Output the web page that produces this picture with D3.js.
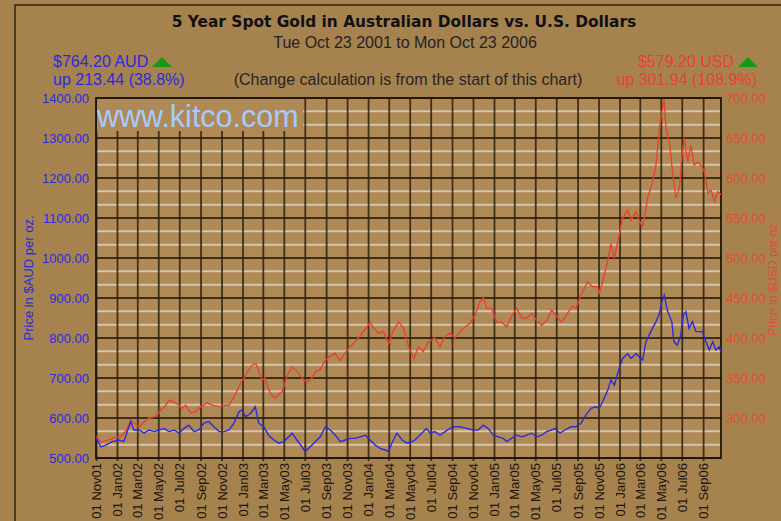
<!DOCTYPE html>
<html>
<head>
<meta charset="utf-8">
<script src="https://cdn.jsdelivr.net/npm/d3@7"></script>
<style>
body { margin: 0; background: #a6824f; }
svg { display: block; font-family: Arial, "Liberation Sans", sans-serif; }
</style>
</head>
<body>
<div id="chart"></div>
<script>
// x tick dates (every two months)
var tickDates = ['2001-11-01', '2002-01-01', '2002-03-01', '2002-05-01', '2002-07-01', '2002-09-01',
    '2002-11-01', '2003-01-01', '2003-03-01', '2003-05-01', '2003-07-01', '2003-09-01',
    '2003-11-01', '2004-01-01', '2004-03-01', '2004-05-01', '2004-07-01', '2004-09-01',
    '2004-11-01', '2005-01-01', '2005-03-01', '2005-05-01', '2005-07-01', '2005-09-01',
    '2005-11-01', '2006-01-01', '2006-03-01', '2006-05-01', '2006-07-01', '2006-09-01'];
var audTicks = [500, 600, 700, 800, 900, 1000, 1100, 1200, 1300, 1400];
var usdTicks = [300, 350, 400, 450, 500, 550, 600, 650, 700];

// gold in US dollars
var usdDates = ['2001-11-01', '2001-11-15', '2001-12-03', '2001-12-23', '2002-01-12', '2002-01-26',
    '2002-02-10', '2002-02-19', '2002-03-06', '2002-03-21', '2002-04-04', '2002-04-24', '2002-05-08',
    '2002-05-23', '2002-06-01', '2002-06-16', '2002-06-30', '2002-07-09', '2002-07-20', '2002-08-03',
    '2002-08-18', '2002-09-01', '2002-09-20', '2002-10-04', '2002-10-25', '2002-11-08', '2002-11-23',
    '2002-12-07', '2002-12-27', '2003-01-14', '2003-01-28', '2003-02-09', '2003-02-27', '2003-03-07',
    '2003-03-22', '2003-04-05', '2003-04-26', '2003-05-10', '2003-05-25', '2003-06-08', '2003-06-23',
    '2003-07-07', '2003-07-22', '2003-07-31', '2003-08-14', '2003-08-29', '2003-09-12', '2003-09-27',
    '2003-10-11', '2003-10-26', '2003-11-09', '2003-11-24', '2003-12-14', '2003-12-29', '2004-01-07',
    '2004-01-17', '2004-02-01', '2004-02-15', '2004-03-01', '2004-03-15', '2004-03-30', '2004-04-13',
    '2004-04-28', '2004-05-13', '2004-05-26', '2004-06-09', '2004-06-24', '2004-07-13', '2004-07-28',
    '2004-08-12', '2004-08-26', '2004-09-10', '2004-09-24', '2004-10-09', '2004-10-23', '2004-11-07',
    '2004-11-21', '2004-12-01', '2004-12-11', '2004-12-25', '2005-01-09', '2005-01-23', '2005-02-07',
    '2005-02-21', '2005-03-08', '2005-03-23', '2005-04-06', '2005-04-21', '2005-05-05', '2005-05-20',
    '2005-06-03', '2005-06-18', '2005-07-02', '2005-07-17', '2005-07-31', '2005-08-16', '2005-08-27',
    '2005-09-11', '2005-09-30', '2005-10-15', '2005-10-29', '2005-11-03', '2005-11-13', '2005-11-28',
    '2005-12-07', '2005-12-17', '2005-12-31', '2006-01-10', '2006-01-25', '2006-02-03', '2006-02-18',
    '2006-02-27', '2006-03-09', '2006-03-24', '2006-04-07', '2006-04-17', '2006-04-27', '2006-05-04',
    '2006-05-11', '2006-05-16', '2006-05-26', '2006-06-04', '2006-06-14', '2006-06-24', '2006-07-01',
    '2006-07-08', '2006-07-18', '2006-07-27', '2006-08-06', '2006-08-16', '2006-08-26', '2006-09-05',
    '2006-09-15', '2006-09-24', '2006-10-04', '2006-10-14', '2006-10-23'];
var usdValues = [277, 270, 272, 275, 277, 283,
    297, 294, 289, 295, 300, 302, 310,
    316, 322, 320, 316, 312, 316, 306,
    308, 314, 319, 316, 314, 316, 316,
    326, 344, 356, 366, 368, 347, 350,
    331, 325, 333, 352, 364, 358, 350,
    345, 350, 358, 360, 372, 377, 381,
    372, 381, 389, 395, 406, 414, 420,
    412, 406, 408, 393, 410, 420, 412,
    389, 374, 389, 383, 395, 400, 389,
    402, 406, 400, 408, 414, 418, 429,
    445, 450, 437, 437, 420, 420, 414,
    427, 437, 425, 425, 431, 422, 416,
    422, 435, 427, 420, 429, 440, 437,
    454, 470, 464, 464, 456, 470, 497,
    518, 500, 529, 550, 560, 547, 558,
    547, 539, 575, 595, 616, 662, 683,
    698, 662, 645, 608, 575, 587, 625,
    650, 620, 641, 616, 620, 616, 608,
    581, 585, 571, 583, 579.2];

// gold in Australian dollars
var audDates = ['2001-11-01', '2001-11-15', '2001-11-29', '2001-12-18', '2002-01-07', '2002-01-21',
    '2002-01-31', '2002-02-10', '2002-02-19', '2002-03-06', '2002-03-21', '2002-04-04', '2002-04-19',
    '2002-05-03', '2002-05-18', '2002-06-01', '2002-06-16', '2002-06-30', '2002-07-15', '2002-07-29',
    '2002-08-13', '2002-08-27', '2002-09-11', '2002-09-25', '2002-10-10', '2002-10-25', '2002-11-08',
    '2002-11-23', '2002-12-07', '2002-12-22', '2002-12-31', '2003-01-10', '2003-01-25', '2003-02-07',
    '2003-02-17', '2003-03-04', '2003-03-18', '2003-04-02', '2003-04-16', '2003-05-01', '2003-05-15',
    '2003-05-25', '2003-06-08', '2003-06-23', '2003-07-02', '2003-07-17', '2003-08-01', '2003-08-15',
    '2003-08-30', '2003-09-13', '2003-09-28', '2003-10-12', '2003-10-27', '2003-11-10', '2003-11-25',
    '2003-12-09', '2003-12-24', '2004-01-07', '2004-01-22', '2004-02-05', '2004-02-20', '2004-03-01',
    '2004-03-10', '2004-03-25', '2004-04-09', '2004-04-23', '2004-05-08', '2004-05-16', '2004-06-05',
    '2004-06-19', '2004-06-29', '2004-07-13', '2004-07-28', '2004-08-12', '2004-08-26', '2004-09-10',
    '2004-09-24', '2004-10-14', '2004-11-02', '2004-11-16', '2004-12-01', '2004-12-15', '2004-12-30',
    '2005-01-13', '2005-01-28', '2005-02-07', '2005-02-21', '2005-03-08', '2005-03-23', '2005-04-06',
    '2005-04-21', '2005-05-05', '2005-05-20', '2005-06-03', '2005-06-18', '2005-06-27', '2005-07-12',
    '2005-07-26', '2005-08-13', '2005-08-27', '2005-09-11', '2005-09-25', '2005-10-10', '2005-10-24',
    '2005-11-03', '2005-11-13', '2005-11-28', '2005-12-07', '2005-12-17', '2005-12-31', '2006-01-10',
    '2006-01-25', '2006-02-03', '2006-02-18', '2006-02-27', '2006-03-09', '2006-03-19', '2006-04-02',
    '2006-04-17', '2006-04-27', '2006-05-04', '2006-05-11', '2006-05-21', '2006-06-02', '2006-06-08',
    '2006-06-18', '2006-06-28', '2006-07-05', '2006-07-13', '2006-07-22', '2006-08-01', '2006-08-11',
    '2006-08-21', '2006-08-30', '2006-09-09', '2006-09-19', '2006-09-29', '2006-10-08', '2006-10-18',
    '2006-10-23'];
var audValues = [551, 528, 532, 541, 545, 541,
    566, 591, 570, 570, 562, 570, 566,
    570, 574, 566, 570, 562, 574, 582,
    566, 570, 587, 591, 578, 566, 566,
    570, 587, 616, 620, 603, 612, 628,
    587, 578, 557, 545, 537, 541, 553,
    562, 545, 528, 516, 528, 541, 553,
    578, 570, 557, 541, 545, 549, 549,
    553, 557, 545, 532, 524, 520, 516,
    537, 562, 545, 537, 541, 545, 562,
    574, 562, 566, 557, 566, 574, 578,
    578, 574, 570, 570, 582, 574, 557,
    553, 549, 541, 549, 557, 553, 557,
    562, 553, 557, 566, 570, 574, 562,
    570, 578, 578, 587, 607, 624, 628,
    624, 641, 670, 695, 682, 724, 749,
    761, 749, 761, 753, 745, 791, 816,
    841, 862, 891, 907, 866, 841, 791,
    782, 807, 857, 866, 824, 841, 816,
    816, 816, 791, 770, 791, 770, 778,
    764.2];

var col_blue = '#2b2bdc';
var col_red = '#e8432e';
var col_green = '#139a16';
var col_grid = '#2a1e0e';

var width = 781, height = 521;
var plotLeft = 96, plotRight = 721, plotTop = 98, plotBottom = 458;

var parse = d3.utcParse('%Y-%m-%d');
var fmtTick = d3.utcFormat('%d %b%y');

var x = d3.scaleUtc()
    .domain([parse('2001-11-01'), parse('2006-10-23')])
    .range([plotLeft, plotRight]);
var yAud = d3.scaleLinear().domain([500, 1400]).range([plotBottom, plotTop]);
var yUsd = d3.scaleLinear().domain([250, 700]).range([plotBottom, plotTop]);

var svg = d3.select('#chart').append('svg')
    .attr('width', width)
    .attr('height', height);

// outer frame
svg.append('path')
    .attr('d', 'M15,' + (height + 5) + 'V5H' + (width + 5))
    .attr('fill', 'none')
    .attr('stroke', '#2e2416')
    .attr('stroke-width', 1.5);

// plot background
svg.append('rect')
    .attr('x', plotLeft).attr('y', plotTop)
    .attr('width', plotRight - plotLeft).attr('height', plotBottom - plotTop)
    .attr('fill', '#b08a56');

// minor white lines (thirds of 100 AUD)
var minor = [];
audTicks.forEach(function(t) {
    if (t < 1400) { minor.push(t + 100 / 3); minor.push(t + 200 / 3); }
});
svg.append('g').selectAll('line').data(minor).enter().append('line')
    .attr('x1', plotLeft).attr('x2', plotRight)
    .attr('y1', function(d) { return yAud(d); })
    .attr('y2', function(d) { return yAud(d); })
    .attr('stroke', '#e6e0d6').attr('stroke-opacity', 0.7)
    .attr('stroke-width', 2);

// vertical grid + x labels
var xAxis = d3.axisBottom(x)
    .tickValues(tickDates.map(parse))
    .tickFormat(fmtTick)
    .tickSize(-(plotBottom - plotTop))
    .tickSizeOuter(0);
var gx = svg.append('g')
    .attr('transform', 'translate(0,' + plotBottom + ')')
    .call(xAxis);
gx.select('.domain').remove();
gx.selectAll('line')
    .attr('y2', -(plotBottom - plotTop))
    .attr('y1', 3)
    .attr('stroke', col_grid).attr('stroke-opacity', 0.85)
    .attr('stroke-width', 1.8);
gx.selectAll('text')
    .attr('transform', 'rotate(-90)')
    .attr('x', -5).attr('y', 0).attr('dy', '0.35em')
    .attr('text-anchor', 'end')
    .attr('fill', '#1c160e')
    .style('font-size', '13px')
    .style('font-family', 'Arial, "Liberation Sans", sans-serif');

// major horizontal grid
svg.append('g').selectAll('line').data(audTicks).enter().append('line')
    .attr('x1', plotLeft).attr('x2', plotRight)
    .attr('y1', function(d) { return yAud(d); })
    .attr('y2', function(d) { return yAud(d); })
    .attr('stroke', col_grid).attr('stroke-opacity', 0.85)
    .attr('stroke-width', 1.8);

// kitco box covers the grid at top left
svg.append('rect')
    .attr('x', plotLeft + 1).attr('y', plotTop + 1)
    .attr('width', 206).attr('height', 32)
    .attr('fill', '#b08a56');
svg.append('text')
    .attr('x', 97).attr('y', 127)
    .attr('fill', '#a6caff')
    .style('font-size', '30.5px')
    .text('www.kitco.com');

// plot frame
svg.append('rect')
    .attr('x', plotLeft).attr('y', plotTop)
    .attr('width', plotRight - plotLeft).attr('height', plotBottom - plotTop)
    .attr('fill', 'none')
    .attr('stroke', '#1e170c').attr('stroke-width', 1.8);

// left axis labels
var gl = svg.append('g')
    .attr('transform', 'translate(' + (plotLeft - 4) + ',0)')
    .call(d3.axisLeft(yAud).tickValues(audTicks).tickFormat(d3.format('.2f')).tickSize(0));
gl.select('.domain').remove();
gl.selectAll('text')
    .attr('fill', col_blue)
    .style('font-size', '13px')
    .style('font-family', 'Arial, "Liberation Sans", sans-serif');

// right axis labels
var gr = svg.append('g')
    .attr('transform', 'translate(' + (plotRight + 2) + ',0)')
    .call(d3.axisRight(yUsd).tickValues(usdTicks).tickFormat(d3.format('.2f')).tickSize(0));
gr.select('.domain').remove();
gr.selectAll('text')
    .attr('fill', col_red).attr('fill-opacity', 0.85)
    .style('font-size', '13px')
    .style('font-family', 'Arial, "Liberation Sans", sans-serif');

// axis titles
svg.append('text')
    .attr('transform', 'translate(33,' + ((plotTop + plotBottom) / 2) + ') rotate(-90)')
    .attr('text-anchor', 'middle')
    .attr('fill', col_blue)
    .style('font-size', '13px')
    .text('Price in $AUD per oz.');
svg.append('text')
    .attr('transform', 'translate(777,' + ((plotTop + plotBottom) / 2) + ') rotate(-90)')
    .attr('text-anchor', 'middle')
    .attr('fill', col_red).attr('fill-opacity', 0.85)
    .style('font-size', '12px')
    .text('Price in $USD per oz.');

// series lines
var usdData = usdDates.map(function(d, i) { return { date: parse(d), value: usdValues[i] }; });
var audData = audDates.map(function(d, i) { return { date: parse(d), value: audValues[i] }; });

svg.append('path')
    .datum(usdData)
    .attr('fill', 'none')
    .attr('stroke', col_red)
    .attr('stroke-width', 1.4)
    .attr('d', d3.line().x(function(d) { return x(d.date); }).y(function(d) { return yUsd(d.value); }));
svg.append('path')
    .datum(audData)
    .attr('fill', 'none')
    .attr('stroke', col_blue)
    .attr('stroke-width', 1.4)
    .attr('d', d3.line().x(function(d) { return x(d.date); }).y(function(d) { return yAud(d.value); }));

// titles
svg.append('text')
    .attr('x', 404).attr('y', 27)
    .attr('text-anchor', 'middle')
    .attr('fill', '#111')
    .style('font-family', '"DejaVu Sans", Verdana, sans-serif')
    .style('font-size', '15.4px').style('font-weight', 'bold')
    .text('5 Year Spot Gold in Australian Dollars vs. U.S. Dollars');
svg.append('text')
    .attr('x', 405).attr('y', 48)
    .attr('text-anchor', 'middle')
    .attr('fill', '#222')
    .style('font-size', '16px')
    .text('Tue Oct 23 2001 to Mon Oct 23 2006');
svg.append('text')
    .attr('x', 408).attr('y', 85)
    .attr('text-anchor', 'middle')
    .attr('fill', '#2a2520')
    .style('font-size', '16px')
    .text('(Change calculation is from the start of this chart)');

// price boxes
svg.append('text')
    .attr('x', 53).attr('y', 67)
    .attr('fill', col_blue)
    .style('font-size', '16px')
    .text('$764.20 AUD');
svg.append('text')
    .attr('x', 53).attr('y', 85)
    .attr('fill', col_blue)
    .style('font-size', '16px')
    .text('up 213.44 (38.8%)');
svg.append('text')
    .attr('x', 734).attr('y', 67)
    .attr('text-anchor', 'end')
    .attr('fill', col_red)
    .style('font-size', '16px')
    .text('$579.20 USD');
svg.append('text')
    .attr('x', 757).attr('y', 85)
    .attr('text-anchor', 'end')
    .attr('fill', col_red)
    .style('font-size', '16px')
    .text('up 301.94 (108.9%)');

// green up arrows
[[162, 57], [748, 57]].forEach(function(p) {
    svg.append('path')
        .attr('d', 'M' + (p[0] - 10) + ',' + (p[1] + 10) + 'L' + p[0] + ',' + p[1] + 'L' + (p[0] + 10) + ',' + (p[1] + 10) + 'Z')
        .attr('fill', col_green);
});
</script>
</body>
</html>
